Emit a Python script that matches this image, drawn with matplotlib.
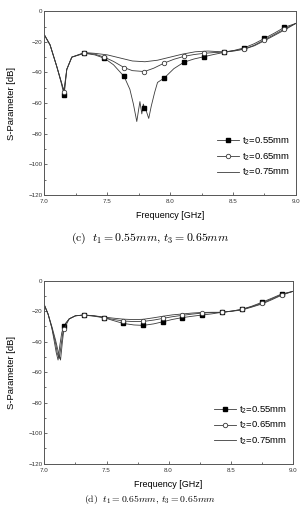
import matplotlib
matplotlib.use("Agg")
import matplotlib.pyplot as plt
from matplotlib.ticker import MultipleLocator

plt.rcParams['font.family'] = ['Liberation Sans', 'DejaVu Sans']
plt.rcParams['mathtext.fontset'] = 'cm'

# marker frequencies shared by both panels [GHz]
mark_f = [7.157, 7.318, 7.477, 7.634, 7.796, 7.955, 8.11, 8.27, 8.43, 8.59, 8.75, 8.91]

# ---- panel (c) ----
c_f_055 = [7.0, 7.045, 7.098, 7.13, 7.157, 7.178, 7.218, 7.318, 7.4, 7.477, 7.55, 7.634,
           7.68, 7.708, 7.735, 7.75, 7.76, 7.775, 7.787, 7.796, 7.81, 7.83, 7.85, 7.877,
           7.9, 7.955, 8.03, 8.11, 8.19, 8.27, 8.35, 8.43, 8.51, 8.59, 8.67, 8.75, 8.83, 8.91, 9.0]
c_s_055 = [-15.5, -22, -36, -45.6, -54.8, -38, -30, -27.5, -28.5, -30.7, -35, -42.6,
           -51, -60.6, -72, -64, -59, -67, -60.6, -63, -65, -70, -62, -53,
           -46.5, -43.5, -37.5, -33.3, -31.2, -29.7, -28.2, -26.9, -25.6, -23.9, -21.2, -17.8, -14.3, -10.5, -8]

c_f_065 = [7.0, 7.045, 7.098, 7.13, 7.157, 7.178, 7.218, 7.318, 7.4, 7.477, 7.55, 7.634,
           7.7, 7.796, 7.87, 7.955, 8.03, 8.11, 8.19, 8.27, 8.35, 8.43, 8.51, 8.59,
           8.67, 8.75, 8.83, 8.91, 9.0]
c_s_065 = [-15.5, -22, -36, -45, -52.7, -38, -30, -27.3, -28, -30, -32.8, -36.8,
           -38.8, -39.4, -37.2, -33.8, -31.4, -29.5, -28.3, -27.5, -27.0, -26.7, -26.0, -24.7,
           -22.2, -18.7, -15.2, -11.6, -8]

c_f_075 = [7.0, 7.045, 7.098, 7.13, 7.155, 7.178, 7.218, 7.318, 7.4, 7.5, 7.6, 7.7,
           7.8, 7.9, 8.0, 8.1, 8.2, 8.3, 8.43, 8.5, 8.59, 8.67, 8.75, 8.83, 8.91, 9.0]
c_s_075 = [-15.5, -22, -36, -45, -52, -38, -30, -27, -27.5, -28.5, -30.5, -32.5,
           -33, -32, -30, -28, -26.5, -26, -26.6, -25.8, -24.8, -22.6, -19.3, -15.8, -12.3, -8]

# ---- panel (d) ----
d_f_055 = [7.0, 7.03, 7.06, 7.08, 7.095, 7.11, 7.125, 7.14, 7.157, 7.2, 7.25, 7.318, 7.4,
           7.477, 7.55, 7.634, 7.72, 7.796, 7.88, 7.955, 8.03, 8.11, 8.19, 8.27, 8.35,
           8.43, 8.51, 8.59, 8.67, 8.75, 8.83, 8.91, 9.0]
d_s_055 = [-16, -22, -31, -40, -47, -52, -42, -34, -29.7, -25, -23, -22.5, -23.3,
           -24.2, -26, -28, -29, -29.3, -28.3, -26.9, -25.4, -24.2, -23.3, -22.5, -21.7,
           -20.7, -19.9, -18.8, -16.7, -14.2, -11.5, -8.7, -7]

d_f_065 = [7.0, 7.03, 7.06, 7.09, 7.11, 7.13, 7.145, 7.157, 7.2, 7.25, 7.318, 7.4,
           7.477, 7.55, 7.634, 7.72, 7.796, 7.88, 7.955, 8.03, 8.11, 8.19, 8.27, 8.35,
           8.43, 8.51, 8.59, 8.67, 8.75, 8.83, 8.91, 9.0]
d_s_065 = [-16, -22, -30, -39, -46, -52, -40, -31.9, -25, -23, -22.5, -23,
           -24.2, -25.3, -26.4, -26.8, -26.7, -25.8, -24.7, -23.6, -22.7, -21.9, -21.2, -20.9,
           -20.7, -19.9, -18.8, -17, -14.8, -12, -9.1, -7]

d_f_075 = [7.0, 7.03, 7.06, 7.09, 7.105, 7.12, 7.135, 7.15, 7.17, 7.2, 7.25, 7.318, 7.4,
           7.477, 7.55, 7.634, 7.72, 7.796, 7.88, 7.955, 8.03, 8.11, 8.19, 8.27, 8.35,
           8.43, 8.51, 8.59, 8.67, 8.75, 8.83, 8.91, 9.0]
d_s_075 = [-16, -22, -31, -41, -48, -51, -42, -33, -28, -25, -23, -22.5, -23,
           -23.8, -24.5, -25.2, -25.5, -25.3, -24.3, -23.3, -22.4, -21.8, -21.2, -20.8, -20.7,
           -20.7, -20, -19.2, -17.3, -15.3, -12.5, -9.5, -7]

labels = [r't$\mathregular{_2}$=0.55mm', r't$\mathregular{_2}$=0.65mm', r't$\mathregular{_2}$=0.75mm']
captions = [r'$\mathrm{(c)}\ \ t_1 = 0.55mm,\, t_3 = 0.65mm$',
            r'$\mathrm{(d)}\ \ t_1 = 0.65mm,\, t_3 = 0.65mm$']

LC = '#3a3a3a'


def marks(freqs):
    # indices of the points that get a marker
    return [i for i, f in enumerate(freqs) if any(abs(f - m) < 1e-6 for m in mark_f)]


def panel(ax, f55, s55, f65, s65, f75, s75):
    ax.plot(f75, s75, color=LC, lw=0.6, label=labels[2])
    ax.plot(f55, s55, color=LC, lw=0.6, marker='s', ms=3, mfc='black', mec='black',
            markevery=marks(f55), label=labels[0])
    ax.plot(f65, s65, color=LC, lw=0.6, marker='o', ms=3.2, mfc='white', mec=LC, mew=0.6,
            markevery=marks(f65), label=labels[1])
    ax.set_xlim(7.0, 9.0)
    ax.set_ylim(-120, 0)
    ax.xaxis.set_major_locator(MultipleLocator(0.5))
    ax.xaxis.set_minor_locator(MultipleLocator(0.25))
    ax.yaxis.set_major_locator(MultipleLocator(20))
    ax.yaxis.set_minor_locator(MultipleLocator(10))
    ax.tick_params(which='both', direction='in', labelsize=4.5, colors='#333333')
    ax.tick_params(axis='x', pad=3)
    ax.tick_params(axis='y', pad=1.5)
    ax.tick_params(which='major', length=2.5, width=0.5)
    ax.tick_params(which='minor', length=1.5, width=0.5)
    ax.set_xlabel('Frequency [GHz]', fontsize=6.5, labelpad=5)
    ax.set_ylabel('S-Parameter [dB]', fontsize=6.8, labelpad=9)
    for sp in ax.spines.values():
        sp.set_linewidth(0.7)
        sp.set_color('#555555')
    h, l = ax.get_legend_handles_labels()
    order = [1, 2, 0]
    ax.legend([h[i] for i in order], [l[i] for i in order], loc='lower right',
              bbox_to_anchor=(1.0, 0.06), frameon=False, fontsize=6.8, handlelength=2.4,
              handletextpad=0.3, labelspacing=0.45, borderaxespad=0.2)


fig = plt.figure(figsize=(3.0, 5.08), dpi=100)
ax1 = fig.add_axes([0.148, 0.616, 0.838, 0.362])
ax2 = fig.add_axes([0.148, 0.0872, 0.828, 0.3602])
panel(ax1, c_f_055, c_s_055, c_f_065, c_s_065, c_f_075, c_s_075)
panel(ax2, d_f_055, d_s_055, d_f_065, d_s_065, d_f_075, d_s_075)

fig.text(0.5, 1 - 238 / 508, captions[0], ha='center', va='center', fontsize=8.5)
fig.text(0.5, 1.5 / 508, captions[1], ha='center', va='bottom', fontsize=7)

fig.savefig('out.png', dpi=100)
